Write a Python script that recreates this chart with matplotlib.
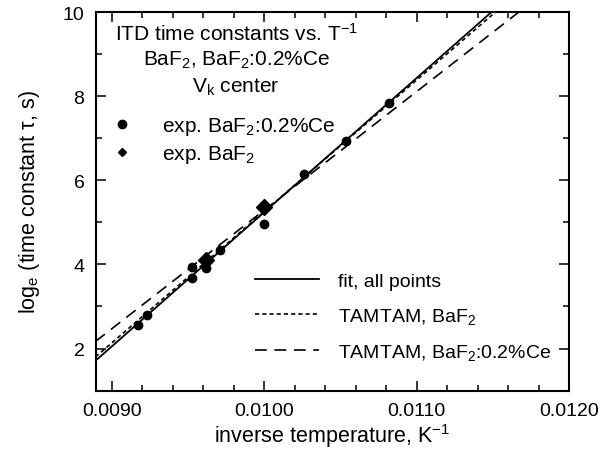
import matplotlib
matplotlib.use("Agg")
import matplotlib.pyplot as plt
from matplotlib.lines import Line2D

plt.rcParams['font.family'] = ['Liberation Sans', 'DejaVu Sans']
plt.rcParams['mathtext.fontset'] = 'custom'
plt.rcParams['mathtext.rm'] = 'Liberation Sans'
plt.rcParams['mathtext.it'] = 'Liberation Sans:italic'
plt.rcParams['lines.scale_dashes'] = False

# experimental points, BaF2:0.2%Ce
ce_x = [0.009175, 0.009234, 0.009525, 0.009525, 0.009619, 0.009713, 0.01000, 0.010262, 0.010535, 0.01082]
ce_y = [2.56, 2.79, 3.94, 3.67, 3.92, 4.35, 4.96, 6.15, 6.94, 7.85]
# experimental points, BaF2
ba_x = [0.009619, 0.01000]
ba_y = [4.10, 5.36]

# straight lines (end points)
fit_x = [0.008895, 0.011489]
fit_y = [1.71, 10.0]
tam_ba_x = [0.008895, 0.011515]
tam_ba_y = [1.80, 10.0]
tam_ce_x = [0.008895, 0.011668]
tam_ce_y = [2.17, 10.0]

fig = plt.figure(figsize=(6.05, 4.56), dpi=100)
ax = fig.add_axes([0.158, 0.1414, 0.7825, 0.8292])

ax.plot(fit_x, fit_y, color='black', lw=1.3, ls='-')
ax.plot(tam_ba_x, tam_ba_y, color='black', lw=1.2, ls=(0, (3.0, 2.2)))
ax.plot(tam_ce_x, tam_ce_y, color='black', lw=1.2, ls=(0, (8.5, 5.5)))
ax.plot(ce_x, ce_y, 'o', color='black', ms=6)
ax.plot(ba_x, ba_y, 'D', color='black', ms=8.5)

ax.set_xlim(0.008895, 0.0120)
ax.set_ylim(1, 10)
ax.set_xticks([0.0090, 0.0100, 0.0110, 0.0120])
ax.set_xticklabels(['0.0090', '0.0100', '0.0110', '0.0120'])
ax.set_xticks([0.0090 + 0.0002 * i for i in range(16)], minor=True)
ax.set_yticks([2, 4, 6, 8, 10])
ax.set_yticks([1, 3, 5, 7, 9], minor=True)
ax.tick_params(which='both', direction='in', top=True, right=True, width=1.1, labelsize=14, pad=8)
ax.tick_params(which='major', length=7)
ax.tick_params(which='minor', length=4.5)
for s in ax.spines.values():
    s.set_linewidth(1.5)

ax.set_xlabel(r'inverse temperature, K$^{\mathregular{-1}}$', fontsize=15.5, labelpad=2)
ax.set_ylabel(r'log$_{\mathregular{e}}$ (time constant τ, s)', fontsize=15.5, labelpad=15)

ax.text(0.297, 0.975, r'ITD time constants vs. T$^{\mathregular{-1}}$' + '\n'
        + r'BaF$_{\mathregular{2}}$, BaF$_{\mathregular{2}}$:0.2%Ce' + '\n'
        + r'V$_{\mathregular{k}}$ center',
        transform=ax.transAxes, ha='center', va='top', fontsize=15, linespacing=1.32)

h1 = [Line2D([], [], marker='o', color='black', ls='none', ms=6),
      Line2D([], [], marker='D', color='black', ls='none', ms=4.5)]
leg1 = ax.legend(h1, [r'exp. BaF$_{\mathregular{2}}$:0.2%Ce', r'exp. BaF$_{\mathregular{2}}$'],
                 loc='upper left', bbox_to_anchor=(-0.005, 0.778), frameon=False, fontsize=15,
                 handlelength=1.0, handletextpad=1.42, labelspacing=0.3)
ax.add_artist(leg1)

h2 = [Line2D([], [], color='black', lw=1.3, ls='-'),
      Line2D([], [], color='black', lw=1.2, ls=(0, (3.0, 2.2))),
      Line2D([], [], color='black', lw=1.2, ls=(0, (8.5, 5.5)))]
ax.legend(h2, ['fit, all points', r'TAMTAM, BaF$_{\mathregular{2}}$', r'TAMTAM, BaF$_{\mathregular{2}}$:0.2%Ce'],
          loc='lower right', bbox_to_anchor=(1.0, 0.03), frameon=False, fontsize=14,
          handlelength=3.3, handletextpad=1.0, labelspacing=0.82)

fig.savefig('out.png', dpi=100)
